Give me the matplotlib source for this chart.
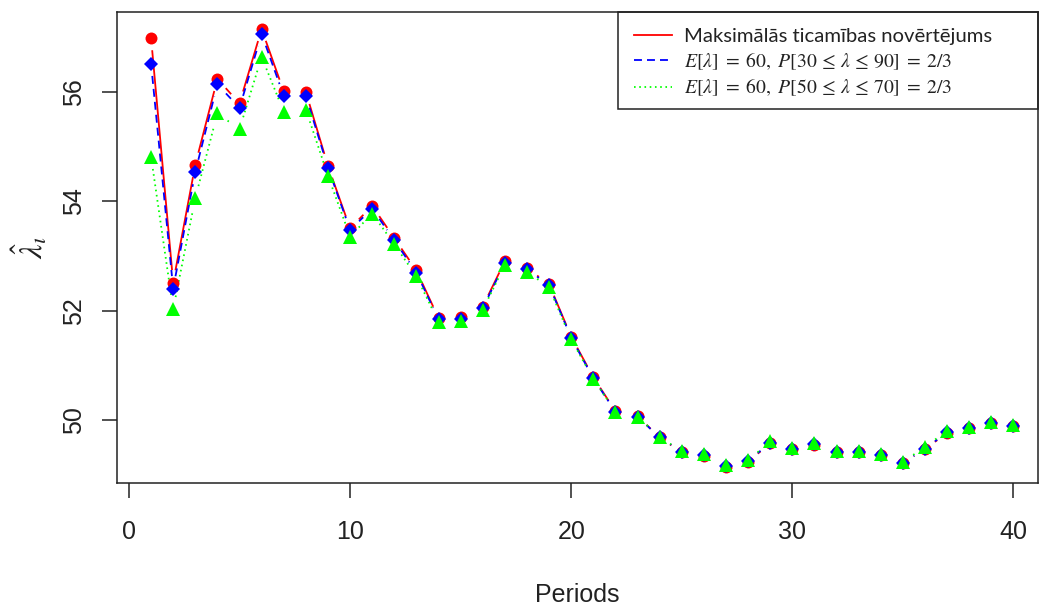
import numpy as np
import matplotlib
matplotlib.use("Agg")
import matplotlib.pyplot as plt
from matplotlib.collections import LineCollection
from matplotlib.lines import Line2D
from matplotlib.patches import Rectangle

# Estimated intensity per period for three estimators
periods = list(range(1, 41))
mle = [56.99, 52.52, 54.67, 56.24, 55.79, 57.15, 56.01, 56.00, 54.65, 53.51,
       53.92, 53.33, 52.74, 51.87, 51.89, 52.08, 52.91, 52.78, 52.49, 51.53,
       50.79, 50.17, 50.08, 49.69, 49.42, 49.36, 49.15, 49.25, 49.58, 49.47,
       49.56, 49.42, 49.42, 49.37, 49.23, 49.47, 49.78, 49.86, 49.95, 49.90]
bayes_wide = [56.52, 52.41, 54.54, 56.14, 55.71, 57.06, 55.93, 55.93, 54.62, 53.48,
              53.87, 53.29, 52.70, 51.85, 51.86, 52.05, 52.88, 52.76, 52.47, 51.51,
              50.77, 50.16, 50.07, 49.69, 49.43, 49.37, 49.17, 49.26, 49.59, 49.48,
              49.57, 49.43, 49.43, 49.37, 49.23, 49.48, 49.79, 49.87, 49.95, 49.90]
bayes_narrow = [54.82, 52.03, 54.06, 55.61, 55.32, 56.64, 55.64, 55.68, 54.47, 53.36,
                53.78, 53.22, 52.63, 51.80, 51.82, 52.02, 52.84, 52.72, 52.43, 51.48,
                50.76, 50.16, 50.07, 49.70, 49.44, 49.38, 49.18, 49.27, 49.62, 49.50,
                49.58, 49.44, 49.44, 49.38, 49.24, 49.52, 49.81, 49.88, 49.97, 49.91]

labels = ["Maksimālās ticamības novērtējums",
          r"$E[\lambda]\;=\;60,\ P[30\,\leq\,\lambda\,\leq\,90]\;=\;2/3$",
          r"$E[\lambda]\;=\;60,\ P[50\,\leq\,\lambda\,\leq\,70]\;=\;2/3$"]
x_ticks = [0, 10, 20, 30, 40]
y_ticks = [50, 52, 54, 56]

plt.rcParams["font.family"] = ["Liberation Sans", "DejaVu Sans"]
plt.rcParams["mathtext.fontset"] = "stix"

W, H, DPI = 1046, 606, 100
fig = plt.figure(figsize=(W / DPI, H / DPI), dpi=DPI)
L, R, T, B = 117, 1038, 12, 483
ax = fig.add_axes([L / W, 1 - B / H, (R - L) / W, (B - T) / H])
ax.set_xlim(-0.54, 41.11)
ax.set_ylim(48.858, 57.461)

series = [
    (mle, "#FF0000", "-", "o", 8.6),
    (bayes_wide, "#0000FF", (0, (4.4, 2.8)), "D", 7.0),
    (bayes_narrow, "#00FF00", (0, (0.9, 2.0)), "^", 10.5),
]

LW = 1.3
GAP = 12.5  # pixels left blank around each point (points-and-lines style)


def gapped_segments(xs, ys, gap):
    pts = ax.transData.transform(np.column_stack([xs, ys]))
    inv = ax.transData.inverted()
    segs = []
    for p, q in zip(pts[:-1], pts[1:]):
        d = q - p
        length = np.hypot(*d)
        if length <= 2 * gap:
            continue
        u = d / length
        segs.append(inv.transform(np.array([p + u * gap, q - u * gap])))
    return segs


handles = []
for vals, col, ls, mk, ms in series:
    lc = LineCollection(gapped_segments(periods, vals, GAP), colors=col,
                        linewidths=LW, linestyles=ls, zorder=2)
    ax.add_collection(lc)
    ax.plot(periods, vals, linestyle="none", marker=mk, markersize=ms,
            color=col, markeredgewidth=0, zorder=3)
    handles.append(Line2D([], [], color=col, linestyle=ls, linewidth=LW))

for s in ax.spines.values():
    s.set_linewidth(1.1)
    s.set_color("#222222")

ax.set_xticks(x_ticks)
ax.set_yticks(y_ticks)
ax.tick_params(axis="both", direction="out", length=10.8, width=1.1,
               color="#222222", labelsize=18, labelcolor="#222222")
ax.tick_params(axis="x", pad=15.5)
ax.tick_params(axis="y", pad=11.5)
for t in ax.get_yticklabels():
    t.set_rotation(90)
    t.set_va("center")

ax.set_xlabel("Periods", fontsize=18, color="#222222")
ax.xaxis.label.set_va("center")
ax.xaxis.set_label_coords(0.5, (B - 595) / (B - T))
ax.set_ylabel(r"$\hat{\lambda}_{\iota}$", fontsize=23, color="#222222")
ax.yaxis.label.set_va("center")
ax.yaxis.set_label_coords((30 - L) / (R - L), 0.5)

# Legend frame in the upper right corner
lx0, ly0, lx1, ly1 = 618, 12, 1038, 109
to_ax = lambda px, py: ((px - L) / (R - L), (B - py) / (B - T))
bx, by = to_ax(lx0, ly1)
ax.add_patch(Rectangle((bx, by), (lx1 - lx0) / (R - L), (ly1 - ly0) / (B - T),
                       transform=ax.transAxes, fill=False, edgecolor="#222222",
                       linewidth=1.1, zorder=5, clip_on=False))
leg = ax.legend(handles, labels, loc="upper left",
                bbox_to_anchor=to_ax(lx0 + 6, ly0 + 6),
                frameon=False, prop={"family": ["Lato", "DejaVu Sans"], "size": 14.6},
                handlelength=1.85, handletextpad=0.6, labelspacing=0.3,
                borderpad=0.5, borderaxespad=0)
for i, t in enumerate(leg.get_texts()):
    t.set_color("#222222")
    if i > 0:
        t.set_fontsize(14.2)

fig.savefig("out.png", dpi=DPI)
